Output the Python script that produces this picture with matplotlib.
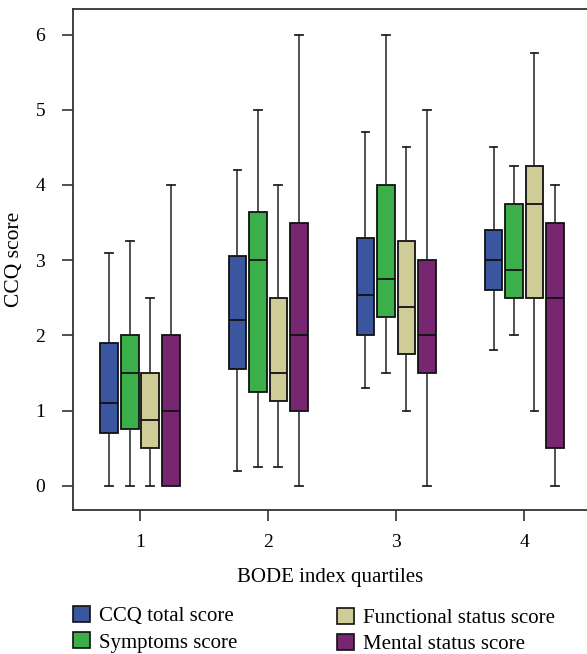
import matplotlib
matplotlib.use('Agg')
import matplotlib.pyplot as plt
from matplotlib.patches import Patch

plt.rcParams['font.family'] = ['Liberation Serif', 'DejaVu Serif']

# Данные: квартили индекса BODE и оценки CCQ (min, Q1, медиана, Q3, max)
quartiles = [1, 2, 3, 4]
series = ['CCQ total score', 'Symptoms score', 'Functional status score', 'Mental status score']
colors = ['#3A56A0', '#3BB04A', '#CFCC97', '#772671']

ccq_total = [(0.0, 0.70, 1.10, 1.90, 3.10),
             (0.20, 1.55, 2.20, 3.05, 4.20),
             (1.30, 2.00, 2.54, 3.30, 4.70),
             (1.80, 2.60, 3.00, 3.40, 4.50)]
symptoms = [(0.0, 0.75, 1.50, 2.00, 3.25),
            (0.25, 1.25, 3.00, 3.64, 5.00),
            (1.50, 2.25, 2.75, 4.00, 6.00),
            (2.00, 2.50, 2.875, 3.75, 4.25)]
functional = [(0.0, 0.50, 0.875, 1.50, 2.50),
              (0.25, 1.125, 1.50, 2.50, 4.00),
              (1.00, 1.75, 2.375, 3.25, 4.50),
              (1.00, 2.50, 3.75, 4.25, 5.75)]
mental = [(0.0, 0.0, 1.00, 2.00, 4.00),
          (0.0, 1.00, 2.00, 3.50, 6.00),
          (0.0, 1.50, 2.00, 3.00, 5.00),
          (0.0, 0.50, 2.50, 3.50, 4.00)]
all_data = [ccq_total, symptoms, functional, mental]

offsets = [-0.24, -0.08, 0.08, 0.24]

fig = plt.figure(figsize=(5.87, 6.54), dpi=100)
ax = fig.add_axes([0.1244, 0.2202, 0.8756, 0.766])

for data, off, col in zip(all_data, offsets, colors):
    stats = []
    for lo, q1, med, q3, hi in data:
        stats.append(dict(whislo=lo, q1=q1, med=med, q3=q3, whishi=hi, fliers=[]))
    ax.bxp(stats, positions=[q + off for q in quartiles], widths=0.137,
           capwidths=0.06, patch_artist=True, showfliers=False,
           boxprops=dict(facecolor=col, edgecolor='#111111', linewidth=1.3),
           medianprops=dict(color='#111111', linewidth=1.3),
           whiskerprops=dict(color='#222222', linewidth=1.1),
           capprops=dict(color='#222222', linewidth=1.3),
           manage_ticks=False)

ax.set_xlim(0.477, 4.49)
ax.set_ylim(-0.323, 6.34)
ax.set_xticks(quartiles)
ax.set_xticklabels([str(q) for q in quartiles])
ax.set_yticks(range(0, 7))
ax.spines['right'].set_visible(False)
for s in ['left', 'top', 'bottom']:
    ax.spines[s].set_color('#333333')
    ax.spines[s].set_linewidth(1.3)
ax.tick_params(axis='both', direction='out', length=8, width=1.2,
               color='#333333', labelsize=14)
ax.tick_params(axis='x', pad=9.5)
ax.tick_params(axis='y', pad=12)

ax.set_xlabel('BODE index quartiles', fontsize=15, labelpad=12)
ax.set_ylabel('CCQ score', fontsize=15.5, labelpad=8)

handles = [Patch(facecolor=c, edgecolor='#111111', linewidth=1.2) for c in colors]
leg_kw = dict(bbox_transform=fig.transFigure, frameon=False, fontsize=15,
              handlelength=0.82, handleheight=0.8, handletextpad=0.45, labelspacing=0.28,
              borderaxespad=0, borderpad=0, loc='upper left')
fig.legend(handles[:2], series[:2], bbox_to_anchor=(0.124, 0.073), **leg_kw)
fig.legend(handles[2:], series[2:], bbox_to_anchor=(0.574, 0.071), **leg_kw)

fig.savefig('out.png', dpi=100)
